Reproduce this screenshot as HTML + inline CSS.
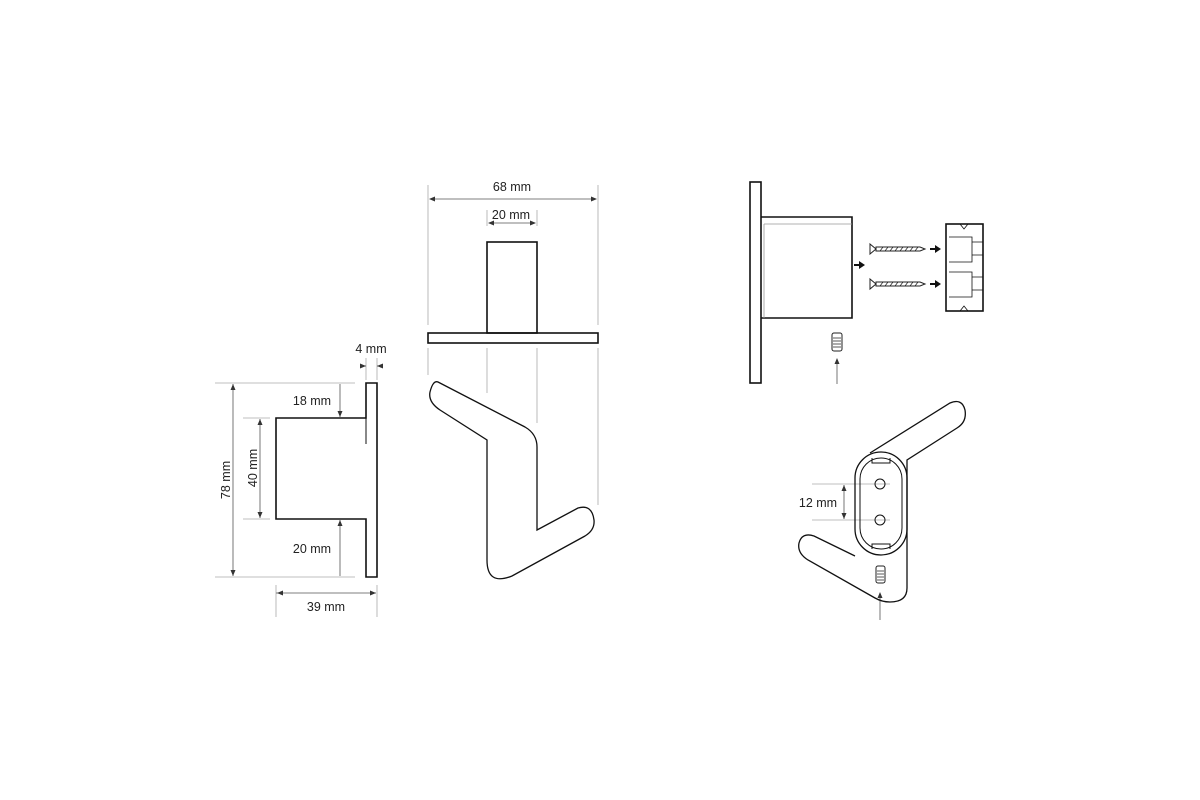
<!DOCTYPE html>
<html><head><style>body{margin:0;background:#fff}svg{display:block}text{font-family:"Liberation Sans",sans-serif;font-size:12.5px;fill:#222}</style></head>
<body>
<svg width="1200" height="800" viewBox="0 0 1200 800">
<defs>
<path id="ah" d="M0,0L-6,-2.5L-6,2.5Z" fill="#333"/>
<path id="bh" d="M0,0L-6,-4L-6,4Z" fill="#111"/>
</defs>
<g stroke="#aaa" stroke-width="0.8" fill="none">
<path d="M215 383H355M215 577H355M243 418H270M243 519H270M276 585V617M377 585V617M366 358V380M377 358V380"/>
<path d="M428 185V325M598 185V325M487 210V226M537 210V226M428 348V375M598 348V505M487 348V393M537 348V423"/>
<path d="M812 484H890M812 520H890"/>
</g>
<g stroke="#555" stroke-width="0.8" fill="none">
<path d="M233 384V576M260 419V518M276 593H376M430 199H596M489 223H535M844 485V519M340 384V417M340 576V520M360 366H366M383 366H377M837 384V362M880 620V595"/>
</g>
<g>
<use href="#ah" transform="translate(233 384) rotate(-90)"/>
<use href="#ah" transform="translate(233 576) rotate(90)"/>
<use href="#ah" transform="translate(260 419) rotate(-90)"/>
<use href="#ah" transform="translate(260 518) rotate(90)"/>
<use href="#ah" transform="translate(277 593) rotate(180)"/>
<use href="#ah" transform="translate(376 593)"/>
<use href="#ah" transform="translate(429 199) rotate(180)"/>
<use href="#ah" transform="translate(597 199)"/>
<use href="#ah" transform="translate(488 223) rotate(180)"/>
<use href="#ah" transform="translate(536 223)"/>
<use href="#ah" transform="translate(844 485) rotate(-90)"/>
<use href="#ah" transform="translate(844 519) rotate(90)"/>
<use href="#ah" transform="translate(340 417) rotate(90)"/>
<use href="#ah" transform="translate(340 520) rotate(-90)"/>
<use href="#ah" transform="translate(366 366)"/>
<use href="#ah" transform="translate(377 366) rotate(180)"/>
<use href="#ah" transform="translate(837 358) rotate(-90)"/>
<use href="#ah" transform="translate(880 592) rotate(-90)"/>
<use href="#bh" transform="translate(865 265)"/>
<use href="#bh" transform="translate(941 249)"/>
<use href="#bh" transform="translate(941 284)"/>
</g>
<g stroke="#111" stroke-width="2"><path d="M854 265H860M930 249H936M930 284H936"/></g>
<g fill="none" stroke="#111" stroke-width="1.6">
<path d="M366 383H377V577H366V519H276V418H366Z"/>
<path d="M366 418V444" stroke-width="1"/>
<rect x="487" y="242" width="50" height="91"/>
<rect x="428" y="333" width="170" height="10"/>
<path d="M438 382L525 427Q537 434 537 447V530L578 508Q592 504 594 520Q595 530 585 536L512 576Q487 586 487 560V440L440 410Q428 402 430 392Q433 380 438 382Z" stroke-width="1.3"/>
<rect x="750" y="182" width="11" height="201"/>
<path d="M761 217H852V318H761"/>
<path d="M764 224H852M764 224V318" stroke="#999" stroke-width="0.8"/>
<rect x="946" y="224" width="37" height="87"/>
<path d="M949 237H972V262H949M972 242H983M972 255H983M949 272H972V297H949M972 277H983M972 290H983M960 224L964 229L968 224M960 311L964 306L968 311" stroke-width="0.8"/>
<path d="M870 453L950 403Q962 398 965 410Q967 422 957 428L907 460V588Q907 602 890 602Q882 602 875 598L808 560Q797 553 799 543Q802 532 814 536L855 556" stroke-width="1.3"/>
<rect x="855" y="452" width="52" height="103" rx="26" stroke-width="1.3"/>
<rect x="860" y="458" width="42" height="91" rx="21" stroke-width="1"/>
<path d="M872 458V463H890V458M872 549V544H890V549" stroke-width="1"/>
<circle cx="880" cy="484" r="5" stroke-width="1"/>
<circle cx="880" cy="520" r="5" stroke-width="1"/>
</g>
<g stroke="#222" stroke-width="1" fill="#fff">
<path d="M870 244L876 249L870 254ZM876 247H920L925 249L920 251H876Z"/>
<path d="M870 279L876 284L870 289ZM876 282H920L925 284L920 286H876Z"/>
<rect x="832" y="333" width="10" height="18" rx="2"/>
<rect x="876" y="566" width="9" height="17" rx="2"/>
</g>
<g stroke="#222" stroke-width="0.7">
<path d="M880 251L883 247M885 251L888 247M890 251L893 247M895 251L898 247M900 251L903 247M905 251L908 247M910 251L913 247M915 251L918 247"/>
<path d="M880 286L883 282M885 286L888 282M890 286L893 282M895 286L898 282M900 286L903 282M905 286L908 282M910 286L913 282M915 286L918 282"/>
<path d="M833 338H841M833 341H841M833 344H841M833 347H841M877 571H884M877 574H884M877 577H884M877 580H884"/>
</g>
<text x="312" y="405" text-anchor="middle">18 mm</text>
<text x="312" y="553" text-anchor="middle">20 mm</text>
<text x="326" y="611" text-anchor="middle">39 mm</text>
<text x="371" y="353" text-anchor="middle">4 mm</text>
<text transform="translate(230 480) rotate(-90)" text-anchor="middle">78 mm</text>
<text transform="translate(257 468) rotate(-90)" text-anchor="middle">40 mm</text>
<text x="512" y="191" text-anchor="middle">68 mm</text>
<text x="511" y="219" text-anchor="middle">20 mm</text>
<text x="818" y="507" text-anchor="middle">12 mm</text>
</svg>
</body></html>
